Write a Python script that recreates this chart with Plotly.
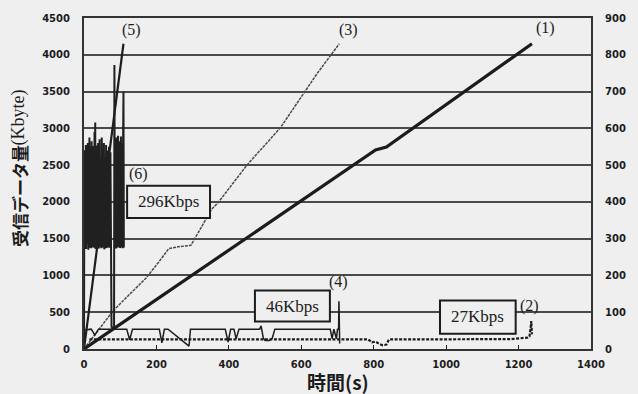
import plotly.graph_objects as go

# ---------------- data ----------------
# (1) cumulative received data, 27Kbps stream (left axis, Kbyte)
t1 = [0, 100, 200, 300, 400, 500, 600, 700, 790, 805, 835, 900, 1000, 1100, 1200, 1237]
v1 = [0, 337, 673, 1010, 1347, 1684, 2020, 2357, 2660, 2705, 2746, 2974, 3323, 3672, 4021, 4150]

# (2) rate of stream (1) (right axis, Kbps)
t2 = [15, 100, 200, 300, 400, 500, 600, 700, 785, 795, 805, 815, 825, 835, 842, 900, 1000,
      1100, 1180, 1225, 1230, 1233, 1235, 1237]
v2 = [26, 26, 26, 26, 26, 26, 26, 26, 26, 18, 20, 14, 10, 12, 26, 26, 26,
      26, 27, 31, 34, 55, 76, 40]

# (3) cumulative received data, 46Kbps stream (left axis)
t3 = [0, 80, 116, 171, 207, 234, 260, 295, 316, 352, 370, 450, 543, 643, 705]
v3 = [0, 517, 695, 963, 1186, 1364, 1390, 1409, 1587, 1898, 1988, 2500, 3013, 3740, 4150]

# (4) rate of stream (3) (right axis)
t4 = [0, 20, 30, 40, 50, 100, 118, 126, 134, 200, 208, 215, 222, 232, 289, 290, 294, 390,
      398, 405, 414, 420, 428, 485, 489, 495, 500, 512, 520, 527, 680, 685, 690, 697, 700,
      703, 704, 706]
v4 = [52, 54, 38, 54, 54, 54, 54, 25, 54, 54, 54, 17, 54, 54, 8, 8, 54, 54,
      19, 54, 54, 28, 54, 54, 63, 30, 23, 23, 30, 54, 54, 28, 54, 28, 54,
      54, 130, 15]

# (5) cumulative received data, 296Kbps stream (left axis)
t5 = [0, 35, 71, 89, 109]
v5 = [0, 1320, 2700, 3430, 4150]

# (6) rate of stream (5) (right axis)
t6 = list(range(0, 111))
v6 = [0, 540, 275, 530, 280, 555, 272, 520, 285, 545, 278, 560, 270, 535, 282, 575,
      276, 530, 280, 550, 274, 565, 281, 540, 277, 552, 283, 528, 275, 590, 279, 616,
      272, 548, 284, 553, 276, 525, 280, 560, 273, 535, 282, 570, 277, 545, 285, 520,
      274, 575, 280, 540, 276, 530, 283, 560, 271, 545, 279, 520, 284, 555, 275, 530,
      281, 540, 277, 525, 283, 550, 276, 520, 280, 535, 274, 60, 58, 60, 58, 60,
      58, 60, 58, 60, 772, 276, 560, 280, 545, 273, 575, 282, 550, 276, 580, 279,
      540, 284, 565, 275, 555, 281, 578, 277, 545, 283, 560, 274, 580, 700, 276]

x_ticks = [0, 200, 400, 600, 800, 1000, 1200, 1400]
y_ticks = [0, 500, 1000, 1500, 2000, 2500, 3000, 3500, 4000, 4500]
y2_ticks = [0, 100, 200, 300, 400, 500, 600, 700, 800, 900]

# ---------------- style ----------------
BG = "#efefef"
INK = "#1c1c1c"
GRID = "#4a4a4a"
SERIF = "Liberation Serif, Times New Roman, serif"
SANS_B = "DejaVu Sans, Arial, sans-serif"
CJK = "Noto Sans CJK JP"

fig = go.Figure()

fig.add_trace(go.Scatter(x=t6, y=v6, yaxis="y2", mode="lines",
                         line=dict(color="#202020", width=2.0)))
fig.add_trace(go.Scatter(x=t4, y=v4, yaxis="y2", mode="lines",
                         line=dict(color=INK, width=1.5)))
fig.add_trace(go.Scatter(x=t2, y=v2, yaxis="y2", mode="lines",
                         line=dict(color=INK, width=2.2, dash="3px,1.5px")))
fig.add_trace(go.Scatter(x=t3, y=v3, mode="lines",
                         line=dict(color="#4a4a4a", width=1.5, dash="3px,1px")))
fig.add_trace(go.Scatter(x=t1, y=v1, mode="lines",
                         line=dict(color=INK, width=3.2)))
fig.add_trace(go.Scatter(x=t5, y=v5, mode="lines",
                         line=dict(color=INK, width=2.2)))

# boxes with rate labels
boxes = [
    ("296Kbps", 119, 348, 1780, 2218, 233, 2000),
    ("46Kbps", 472, 679, 374, 794, 575, 584),
    ("27Kbps", 983, 1192, 206, 660, 1087, 437),
]
shapes = []
annotations = []
for txt, x0, x1, y0, y1, xc, yc in boxes:
    shapes.append(dict(type="rect", xref="x", yref="y", x0=x0, x1=x1, y0=y0, y1=y1,
                       line=dict(color=INK, width=2), fillcolor=BG, layer="above"))
    annotations.append(dict(text=txt, x=xc, y=yc, xref="x", yref="y", showarrow=False,
                            xanchor="center", yanchor="middle",
                            font=dict(family=SERIF, size=17, color=INK)))

labels = [("(1)", 1275, 4365), ("(2)", 1229, 584), ("(3)", 730, 4339),
          ("(4)", 702, 905), ("(5)", 131, 4339), ("(6)", 151, 2374)]
for txt, x, y in labels:
    annotations.append(dict(text=txt, x=x, y=y, xref="x", yref="y", showarrow=False,
                            xanchor="center", yanchor="middle",
                            font=dict(family=SERIF, size=16, color=INK)))

# y-axis title in two parts (bold CJK + serif unit)
annotations.append(dict(
    text="<b>受信データ量</b>", x=(18 - 84) / 514, y=(348.7 - 193) / 337,
    xref="paper", yref="paper", xanchor="center", yanchor="middle",
    textangle=-90, showarrow=False, font=dict(family=CJK, size=17, color=INK)))
annotations.append(dict(
    text="(Kbyte)", x=(18 - 84) / 514, y=(348.7 - 113) / 337,
    xref="paper", yref="paper", xanchor="center", yanchor="middle",
    textangle=-90, showarrow=False, font=dict(family=SERIF, size=18, color=INK)))
annotations.append(dict(
    text="<b>時間(s)</b>", x=0.5, y=(348.7 - 382) / 337, xref="paper", yref="paper",
    xanchor="center", yanchor="middle",
    showarrow=False, font=dict(family=CJK, size=19, color=INK)))

fig.update_layout(
    width=638, height=394,
    margin=dict(l=84, r=40, t=12, b=45),
    paper_bgcolor=BG, plot_bgcolor=BG,
    showlegend=False,
    shapes=shapes, annotations=annotations,
    xaxis=dict(range=[0, 1400], tickvals=x_ticks, ticks="inside", ticklen=4,
               tickcolor=INK, tickwidth=1.2, showgrid=False, zeroline=False,
               showline=True, linecolor="#333", linewidth=2, mirror=True,
               tickfont=dict(family=SANS_B, size=10, color=INK, weight="bold"),
               ticklabelstandoff=5),
    yaxis=dict(range=[0, 4500], tickvals=y_ticks, showgrid=True, gridcolor=GRID,
               gridwidth=1.5, zeroline=False, showline=True, linecolor="#333",
               linewidth=2, ticks="", ticklabelstandoff=10,
               tickfont=dict(family=SANS_B, size=10, color=INK, weight="bold")),
    yaxis2=dict(range=[0, 900], tickvals=y2_ticks, overlaying="y", side="right",
                showgrid=False, zeroline=False, showline=True, linecolor="#333",
                linewidth=2, ticks="", ticklabelstandoff=10,
                tickfont=dict(family=SANS_B, size=10, color=INK, weight="bold")),
)

fig.write_html("out.html", config={"displayModeBar": False},
               post_script="document.body.style.margin='0';document.body.style.overflow='hidden';")
